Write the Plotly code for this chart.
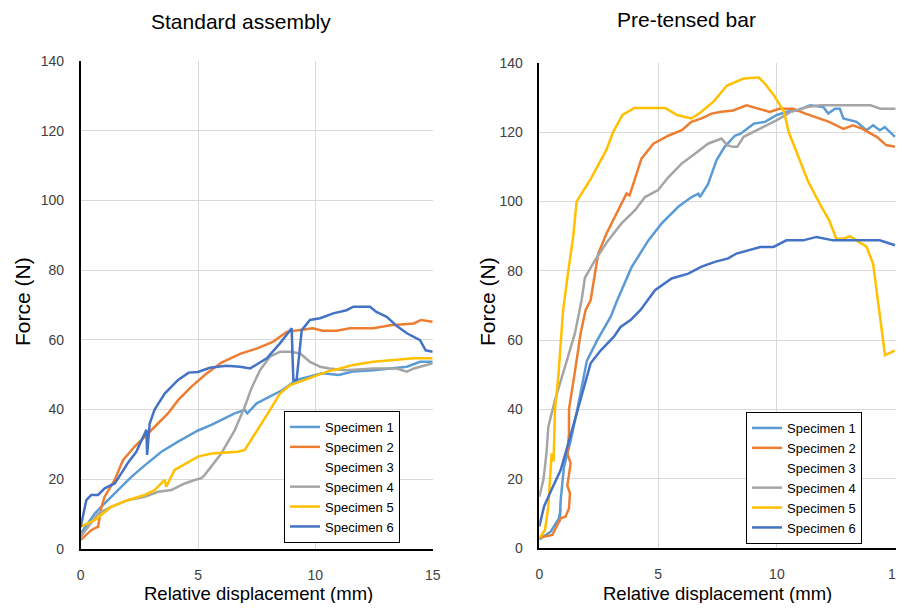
import plotly.graph_objects as go

names = ["Specimen 1", "Specimen 2", "Specimen 3", "Specimen 4", "Specimen 5", "Specimen 6"]
colors = ["#5B9BD5", "#ED7D31", "#FFFFFF", "#A5A5A5", "#FFC000", "#4472C4"]

# ---- Standard assembly (left) ----
std_s1_x = [0, 0.6, 1.02, 1.59, 2.16, 2.73, 3.44, 4.15, 5.0, 5.57, 6.0, 6.56, 6.99, 7.1, 7.5, 8.07, 8.6, 9.2, 9.77, 10.3, 11.0, 11.6, 12.47, 13.2, 13.9, 14.46, 15.0]
std_s1_y = [4.5, 10.2, 13.1, 16.9, 20.7, 24.0, 27.9, 30.8, 34.0, 35.6, 37.0, 38.9, 39.9, 38.9, 41.8, 43.7, 45.6, 48.5, 49.4, 50.4, 49.9, 50.9, 51.3, 51.8, 52.3, 53.7, 53.7]

std_s2_x = [0, 0.45, 0.74, 0.88, 1.02, 1.45, 1.8, 2.3, 2.73, 3.3, 3.72, 4.15, 4.72, 5.3, 6.0, 6.79, 7.5, 8.21, 8.78, 9.35, 9.9, 10.3, 10.9, 11.48, 12.47, 13.2, 14.2, 14.5, 15.0]
std_s2_y = [2.6, 5.4, 6.4, 12.0, 15.0, 19.8, 25.5, 29.4, 32.2, 36.0, 38.9, 42.7, 46.6, 50.0, 53.5, 56.0, 57.5, 59.5, 62.3, 62.8, 63.3, 62.6, 62.6, 63.3, 63.3, 64.2, 64.7, 65.7, 65.2]

std_s3_x = [None]
std_s3_y = [None]

std_s4_x = [0, 0.74, 1.3, 2.0, 2.73, 3.3, 3.86, 4.43, 4.86, 5.14, 5.28, 5.99, 6.56, 6.99, 7.27, 7.64, 8.07, 8.5, 8.93, 9.35, 9.77, 10.2, 10.6, 11.3, 12.47, 13.46, 13.9, 14.2, 15.0]
std_s4_y = [3.5, 10.2, 12.1, 14.0, 15.0, 16.4, 16.9, 18.8, 19.8, 20.3, 21.2, 27.4, 34.0, 40.8, 46.0, 51.3, 55.2, 56.6, 56.6, 56.1, 53.7, 52.3, 51.8, 51.3, 51.8, 51.8, 50.9, 51.8, 53.3]

std_s5_x = [0, 0.6, 1.3, 2.0, 2.73, 3.15, 3.58, 3.65, 4.0, 4.58, 5.0, 5.57, 6.7, 6.99, 7.4, 7.64, 8.07, 8.49, 8.92, 9.35, 9.9, 10.5, 11.05, 11.6, 12.47, 13.3, 14.2, 15.0]
std_s5_y = [6.4, 8.3, 12.1, 14.0, 15.5, 16.9, 19.8, 17.9, 22.7, 25.0, 26.5, 27.4, 27.9, 28.4, 32.7, 35.1, 39.9, 44.6, 47.0, 48.0, 49.4, 50.9, 51.8, 52.8, 53.7, 54.2, 54.7, 54.7]

std_s6_x = [0, 0.24, 0.45, 0.74, 1.02, 1.45, 1.73, 2.0, 2.37, 2.73, 2.8, 2.83, 2.94, 3.15, 3.58, 4.15, 4.6, 5.0, 5.5, 6.2, 6.79, 7.22, 7.93, 8.49, 8.99, 9.06, 9.2, 9.42, 9.77, 10.2, 10.76, 11.33, 11.62, 12.33, 12.6, 13.04, 13.5, 13.9, 14.46, 14.7, 15.0]
std_s6_y = [6.4, 14.0, 15.5, 15.5, 17.4, 18.8, 21.7, 24.6, 27.9, 33.2, 34.2, 27.0, 36.0, 40.0, 44.6, 48.5, 50.6, 50.8, 52.0, 52.6, 52.3, 51.8, 54.7, 59.0, 63.3, 48.5, 48.5, 62.8, 65.7, 66.2, 67.6, 68.5, 69.5, 69.5, 68.0, 66.6, 63.8, 61.9, 59.9, 57.0, 56.6]

# ---- Pre-tensed bar (right) ----
pre_s1_x = [0, 0.48, 0.83, 0.9, 0.85, 0.9, 1.04, 1.32, 1.6, 2.0, 2.44, 3.0, 3.28, 3.88, 4.59, 5.15, 5.85, 6.41, 6.69, 6.76, 7.1, 7.46, 7.8, 8.23, 8.47, 9.03, 9.5, 10.0, 10.43, 10.86, 11.4, 11.95, 12.16, 12.44, 12.65, 12.8, 13.35, 13.77, 14.05, 14.33, 14.54, 14.75, 14.97]
pre_s1_y = [2.5, 4.7, 8.6, 11.4, 7.5, 13.8, 23.5, 31.0, 40.0, 54.0, 60.0, 66.7, 71.5, 81.0, 88.8, 93.7, 98.5, 101.3, 102.3, 101.3, 105.0, 112.0, 115.8, 119.0, 119.6, 122.5, 123.0, 125.0, 125.9, 126.3, 127.8, 127.3, 125.4, 126.8, 126.8, 124.0, 123.0, 120.6, 122.0, 120.6, 121.5, 120.0, 118.7]

pre_s2_x = [0, 0.55, 0.9, 1.1, 1.25, 1.29, 1.18, 1.32, 1.18, 1.25, 1.25, 1.39, 1.53, 1.74, 1.95, 2.16, 2.48, 2.83, 3.18, 3.53, 3.67, 3.8, 4.03, 4.3, 4.8, 5.43, 6.0, 6.4, 6.83, 7.25, 7.67, 8.16, 8.72, 9.28, 9.7, 10.1, 10.69, 11.2, 11.8, 12.2, 12.8, 13.2, 13.6, 14.2, 14.6, 14.97]
pre_s2_y = [3.0, 3.75, 8.6, 9.0, 11.4, 15.8, 18.0, 24.4, 27.3, 33.0, 40.0, 45.6, 52.3, 62.0, 68.7, 71.5, 85.0, 90.8, 95.6, 100.4, 102.3, 101.8, 107.0, 112.4, 116.7, 119.0, 120.6, 123.0, 124.0, 125.4, 125.9, 126.3, 127.8, 126.8, 125.9, 126.8, 126.8, 125.4, 124.0, 123.0, 121.0, 122.0, 121.0, 118.7, 116.3, 115.8]

pre_s3_x = [None]
pre_s3_y = [None]

pre_s4_x = [0, 0.17, 0.24, 0.31, 0.38, 0.66, 1.08, 1.5, 1.78, 1.92, 2.34, 2.9, 3.46, 4.03, 4.45, 5.0, 5.43, 6.0, 6.55, 7.1, 7.67, 7.9, 8.16, 8.33, 8.6, 9.3, 10.0, 10.58, 11.28, 11.84, 13.94, 14.36, 15.0]
pre_s4_y = [14.8, 19.6, 23.5, 28.0, 35.0, 42.7, 52.3, 62.0, 71.5, 78.0, 83.0, 88.8, 93.7, 97.5, 101.3, 103.3, 107.0, 111.0, 113.8, 116.7, 118.2, 116.3, 115.8, 115.8, 118.7, 121.0, 123.5, 125.9, 127.3, 127.8, 127.8, 126.8, 126.8]

pre_s5_x = [0, 0.24, 0.38, 0.45, 0.52, 0.6, 0.66, 0.8, 0.94, 1.0, 1.22, 1.43, 1.57, 2.2, 2.83, 3.1, 3.5, 4.0, 5.3, 5.8, 6.4, 6.8, 7.35, 7.9, 8.6, 9.24, 9.5, 9.87, 10.3, 10.5, 11.3, 11.8, 12.2, 12.5, 12.8, 13.07, 13.77, 14.05, 14.55, 14.96]
pre_s5_y = [2.8, 5.2, 12.0, 21.5, 27.3, 25.0, 39.8, 49.4, 62.0, 68.6, 80.0, 90.0, 100.0, 107.0, 115.0, 120.0, 125.0, 127.0, 127.0, 125.0, 124.0, 125.8, 129.0, 133.5, 135.5, 135.8, 134.0, 130.7, 125.9, 120.0, 106.0, 99.4, 94.6, 89.3, 89.3, 90.0, 87.0, 82.0, 55.7, 57.0]

pre_s6_x = [0, 0.2, 0.48, 0.9, 1.18, 1.46, 1.88, 2.16, 2.58, 3.14, 3.42, 3.84, 4.26, 4.87, 5.57, 6.27, 6.83, 7.39, 7.95, 8.3, 9.3, 9.86, 10.4, 11.1, 11.67, 12.37, 14.33, 14.97]
pre_s6_y = [6.2, 12.0, 16.3, 22.5, 29.2, 36.0, 46.5, 53.3, 57.0, 61.0, 63.8, 65.8, 68.7, 74.4, 77.8, 79.2, 81.2, 82.6, 83.6, 85.0, 86.9, 86.9, 88.8, 88.8, 89.8, 88.8, 88.8, 87.4]

x_ticks = [0, 5, 10, 15]
y_ticks = [0, 20, 40, 60, 80, 100, 120, 140]

std = [(std_s1_x, std_s1_y), (std_s2_x, std_s2_y), (std_s3_x, std_s3_y),
       (std_s4_x, std_s4_y), (std_s5_x, std_s5_y), (std_s6_x, std_s6_y)]
pre = [(pre_s1_x, pre_s1_y), (pre_s2_x, pre_s2_y), (pre_s3_x, pre_s3_y),
       (pre_s4_x, pre_s4_y), (pre_s5_x, pre_s5_y), (pre_s6_x, pre_s6_y)]

FONT = "Liberation Sans, Arial, sans-serif"
fig = go.Figure()
for i, (xs, ys) in enumerate(std):
    fig.add_trace(go.Scatter(x=xs, y=ys, mode="lines", name=names[i],
                             line=dict(color=colors[i], width=2.5),
                             xaxis="x", yaxis="y", legend="legend"))
for i, (xs, ys) in enumerate(pre):
    fig.add_trace(go.Scatter(x=xs, y=ys, mode="lines", name=names[i],
                             line=dict(color=colors[i], width=2.5),
                             xaxis="x2", yaxis="y2", legend="legend2"))

# page body has an 8px margin; keep the page height inside the window
OFF = 8
W, H = 904 - OFF, 611 - 2 * OFF
ML, MR, MT, MB = 40, 4, 40, 40
PW, PH = W - ML - MR, H - MT - MB

def px(v):
    return (v - OFF - ML) / PW

def py(v):
    return (H - MB - (v - OFF)) / PH

axis_common = dict(showgrid=True, gridcolor="#D9D9D9", gridwidth=1, zeroline=False,
                   showline=True, linecolor="#000000", linewidth=1.5,
                   tickfont=dict(family=FONT, size=14, color="#404040"),
                   ticks="", ticklabelstandoff=12, automargin=False,
                   ticklabeloverflow="allow")

legend_common = dict(xanchor="left", yanchor="bottom",
                     bgcolor="white", bordercolor="#000000", borderwidth=1,
                     font=dict(family=FONT, size=13, color="#000000"), tracegroupgap=0,
                     itemwidth=30)

ann = dict(xref="paper", yref="paper", xanchor="center", yanchor="middle", showarrow=False)

fig.update_layout(
    width=W, height=H, margin=dict(l=ML, r=MR, t=MT, b=MB, autoexpand=False),
    paper_bgcolor="white", plot_bgcolor="white", showlegend=True,
    xaxis=dict(domain=[px(80.7), px(432.7)], range=[0, 15], tickvals=x_ticks, anchor="y", **axis_common),
    yaxis=dict(domain=[py(549), py(61)], range=[0, 140], tickvals=y_ticks, anchor="x", **axis_common),
    xaxis2=dict(domain=[px(539.3), min(1.0, px(895.7))], range=[0, 15], tickvals=x_ticks, anchor="y2", **axis_common),
    yaxis2=dict(domain=[py(548), py(63)], range=[0, 140], tickvals=y_ticks, anchor="x2", **axis_common),
    legend=dict(x=px(284), y=py(543), **legend_common),
    legend2=dict(x=px(746), y=py(544), **legend_common),
    annotations=[
        dict(text="Standard assembly", x=px(241), y=py(21), font=dict(family=FONT, size=21, color="#000000"), **ann),
        dict(text="Pre-tensed bar", x=px(686), y=py(20), font=dict(family=FONT, size=21, color="#000000"), **ann),
        dict(text="Force (N)", x=px(22), y=py(302), textangle=-90, font=dict(family=FONT, size=21, color="#000000"), **ann),
        dict(text="Force (N)", x=px(487), y=py(302), textangle=-90, font=dict(family=FONT, size=21, color="#000000"), **ann),
        dict(text="Relative displacement (mm)", x=px(258), y=py(593), font=dict(family=FONT, size=18.5, color="#000000"), **ann),
        dict(text="Relative displacement (mm)", x=px(717), y=py(593), font=dict(family=FONT, size=18.5, color="#000000"), **ann),
    ],
)

fig.write_html("out.html")
